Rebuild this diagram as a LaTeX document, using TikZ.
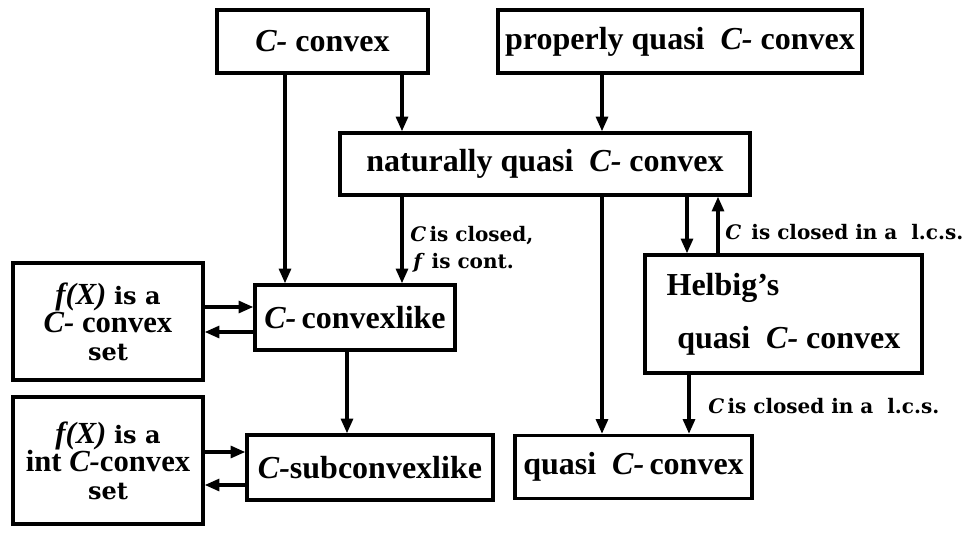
\documentclass[tikz,border=0pt]{standalone}
\usepackage{fontspec}
\setmainfont{Liberation Serif}
\newfontfamily\lblfont{DejaVu Serif}
\usetikzlibrary{arrows.meta}
\begin{document}
\begin{tikzpicture}[x=0.75pt,y=-0.75pt,
  box/.style={draw,line width=2.6pt,inner sep=0pt,align=center,
    font=\fontsize{24}{20.5}\selectfont\bfseries},
  fxbox/.style={box,font=\fontsize{23}{21}\selectfont\bfseries},
  conn/.style={line width=2.3pt,-{Triangle[length=11pt,width=9pt]}},
  lbl/.style={font=\fontsize{15}{18}\selectfont\lblfont\bfseries,inner sep=0pt,anchor=west}]
\newcommand{\cstext}[1]{{\fontsize{18}{21}\selectfont\lblfont\bfseries #1}}
\useasboundingbox[fill=white] (0,0) rectangle (970,532);
% boxes
\node[box,minimum width=158.25pt,minimum height=47.25pt] (cc) at (322.5,41.5) {\textit{C-}\ convex};
\node[box,minimum width=273pt,minimum height=47.25pt] (pq) at (680,41.5) {properly quasi\ \ \textit{C-}\ convex};
\node[box,minimum width=307.5pt,minimum height=46.5pt] (nq) at (545,164) {naturally quasi\ \ \textit{C-}\ convex};
\node[box,minimum width=150pt,minimum height=48.75pt] (cl) at (355,317.5) {\textit{C-}\,convexlike};
\node[fxbox,minimum width=142.5pt,minimum height=87.75pt] (fx1) at (108,321.5)
  {\textit{f(X)} \cstext{is a}\\ \textit{C-}\ convex\\ \cstext{set}};
\node[fxbox,minimum width=142.5pt,minimum height=95.25pt] (fx2) at (108,460.5)
  {\textit{f(X)} \cstext{is a}\\ int \textit{C-}convex\\ \cstext{set}};
\node[box,minimum width=184.5pt,minimum height=48.75pt] (sub) at (370,467.5) {\textit{C-}subconvexlike};
\node[box,minimum width=177.75pt,minimum height=47.25pt] (qc) at (633.5,467) {quasi\ \ \textit{C-}\,convex};
\node[box,minimum width=207.75pt,minimum height=88.5pt,align=left,
  font=\fontsize{24}{40}\selectfont\bfseries] (hel) at (783.5,314)
  {Helbig’s\\ \hspace*{8pt}quasi\ \ \textit{C-}\ convex};
% column / row helpers
\coordinate (xa) at (285,0);
\coordinate (xb) at (402,0);
\coordinate (xc) at (602,0);
\coordinate (xd) at (687,0);
\coordinate (xe) at (718,0);
\coordinate (xf) at (689,0);
\coordinate (xg) at (347,0);
\coordinate (ya) at (0,307);
\coordinate (yb) at (0,332);
\coordinate (yc) at (0,452);
\coordinate (yd) at (0,485);
% connectors
\draw[conn] (cc.south -| xa) -- (cl.north -| xa);
\draw[conn] (cc.south -| xb) -- (nq.north -| xb);
\draw[conn] (pq.south -| xc) -- (nq.north -| xc);
\draw[conn] (nq.south -| xb) -- (cl.north -| xb);
\draw[conn] (nq.south -| xc) -- (qc.north -| xc);
\draw[conn] (nq.south -| xd) -- (hel.north -| xd);
\draw[conn] (hel.north -| xe) -- (nq.south -| xe);
\draw[conn] (hel.south -| xf) -- (qc.north -| xf);
\draw[conn] (cl.south -| xg) -- (sub.north -| xg);
\draw[conn] (fx1.east |- ya) -- (cl.west |- ya);
\draw[conn] (cl.west |- yb) -- (fx1.east |- yb);
\draw[conn] (fx2.east |- yc) -- (sub.west |- yc);
\draw[conn] (sub.west |- yd) -- (fx2.east |- yd);
% labels
\node[lbl] (l1) at (410,236) {\textit{C}\,is closed,};
\node[lbl] (l2) at (413,263) {\textit{f}\ is cont.};
\node[lbl] (l3) at (725,232) {\textit{C}\ \,is closed in a\ \ l.c.s.};
\node[lbl] (l4) at (708,406) {\textit{C}\,is closed in a\ \ l.c.s.};
\end{tikzpicture}
\end{document}
